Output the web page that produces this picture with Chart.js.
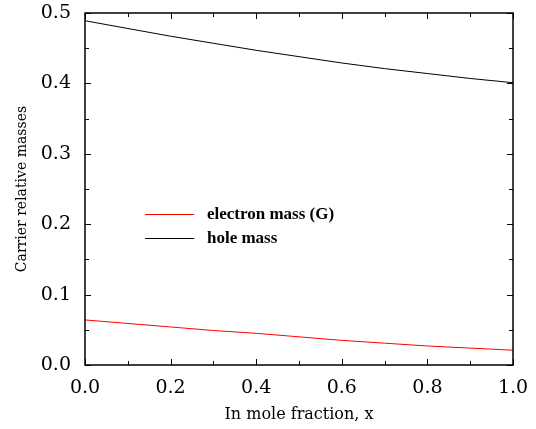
<!doctype html>
<html lang="en">
  <head>
    <meta charset="utf-8">
    <title>Carrier relative masses</title>
    <style>
      html, body { margin: 0; padding: 0; background: #fff; }
      #wrap { width: 536px; height: 429px; }
    </style>
  </head>
  <body>
    <div id="wrap"><canvas id="massChart" width="536" height="429"></canvas></div>

    <script src="https://cdn.jsdelivr.net/npm/chart.js"></script>
    <script>
      // values
      const fraction = [0.0, 0.1, 0.2, 0.3, 0.4, 0.5, 0.6, 0.7, 0.8, 0.9, 1.0];
      const electron_mass = [0.064, 0.059, 0.054, 0.049, 0.045, 0.040, 0.035, 0.031, 0.027, 0.024, 0.021];
      const hole_mass = [0.489, 0.478, 0.467, 0.457, 0.447, 0.438, 0.429, 0.421, 0.414, 0.407, 0.401];
      const x_ticks = [0.0, 0.2, 0.4, 0.6, 0.8, 1.0];
      const y_ticks = [0.0, 0.1, 0.2, 0.3, 0.4, 0.5];

      const serif = "'DejaVu Serif', 'Liberation Serif', serif";

      function points(xs, ys) {
        return xs.map((x, i) => ({ x: x, y: ys[i] }));
      }

      // frame + inward ticks on all four sides
      const framePlugin = {
        id: 'frame',
        afterDatasetsDraw(chart) {
          const ctx = chart.ctx;
          const a = chart.chartArea;
          const xs = chart.scales.x, ys = chart.scales.y;
          ctx.save();
          ctx.strokeStyle = '#000';
          ctx.lineWidth = 1.5;
          ctx.strokeRect(a.left, a.top, a.right - a.left, a.bottom - a.top);
          ctx.lineWidth = 1;
          ctx.beginPath();
          for (let v = 0; v <= 1.0001; v += 0.1) {
            const px = Math.round(xs.getPixelForValue(v)) + 0.5;
            const len = (Math.round(v * 10) % 2 === 0) ? 6 : 4;
            ctx.moveTo(px, a.bottom); ctx.lineTo(px, a.bottom - len);
            ctx.moveTo(px, a.top); ctx.lineTo(px, a.top + len);
          }
          for (let v = 0; v <= 0.5001; v += 0.05) {
            const py = Math.round(ys.getPixelForValue(v)) + 0.5;
            const len = (Math.round(v * 20) % 2 === 0) ? 6 : 4;
            ctx.moveTo(a.left, py); ctx.lineTo(a.left + len, py);
            ctx.moveTo(a.right, py); ctx.lineTo(a.right - len, py);
          }
          ctx.stroke();
          ctx.restore();
        }
      };

      // legend inside the plot
      const legendPlugin = {
        id: 'inLegend',
        afterDatasetsDraw(chart) {
          const ctx = chart.ctx;
          const xs = chart.scales.x, ys = chart.scales.y;
          const x0 = xs.getPixelForValue(0.14), x1 = xs.getPixelForValue(0.255);
          const tx = xs.getPixelForValue(0.285);
          let ty = ys.getPixelForValue(0.215);
          ctx.save();
          ctx.font = "bold 17px 'Liberation Serif', serif";
          ctx.textBaseline = 'middle';
          chart.data.datasets.forEach(ds => {
            ctx.strokeStyle = ds.borderColor;
            ctx.lineWidth = 1;
            ctx.beginPath();
            ctx.moveTo(x0, Math.round(ty) + 0.5);
            ctx.lineTo(x1, Math.round(ty) + 0.5);
            ctx.stroke();
            ctx.fillStyle = '#000';
            ctx.fillText(ds.label, tx, ty + 1);
            ty += 24;
          });
          ctx.restore();
        }
      };

      const massChart = new Chart(document.getElementById('massChart'), {
        type: 'line',
        data: {
          datasets: [{
            label: 'electron mass (G)',
            borderColor: 'rgb(255, 0, 0)',
            borderWidth: 1,
            pointRadius: 0,
            data: points(fraction, electron_mass),
          },
          {
            label: 'hole mass',
            borderColor: 'rgb(0, 0, 0)',
            borderWidth: 1,
            pointRadius: 0,
            cubicInterpolationMode: 'monotone',
            data: points(fraction, hole_mass),
          }]
        },
        options: {
          responsive: false,
          animation: false,
          layout: { padding: { left: 10, right: 23, top: 13, bottom: 0 } },
          plugins: { legend: { display: false }, tooltip: { enabled: false } },
          scales: {
            x: {
              type: 'linear',
              min: 0, max: 1,
              afterBuildTicks: s => { s.ticks = x_ticks.map(v => ({ value: v })); },
              afterFit: s => { s.height = 64; s.paddingLeft = 0; s.paddingRight = 0; },
              grid: { display: false },
              border: { display: false },
              ticks: {
                color: '#000',
                font: { family: serif, size: 19 },
                padding: 4,
                maxRotation: 0,
                callback: v => v.toFixed(1)
              },
              title: {
                display: true,
                text: 'In mole fraction, x',
                color: '#000',
                font: { family: serif, size: 16 },
                padding: { top: 4, bottom: 5 }
              }
            },
            y: {
              min: 0, max: 0.5,
              afterBuildTicks: s => { s.ticks = y_ticks.map(v => ({ value: v })); },
              afterFit: s => { s.width = 75; s.paddingTop = 0; s.paddingBottom = 0; },
              grid: { display: false },
              border: { display: false },
              ticks: {
                color: '#000',
                font: { family: serif, size: 19 },
                padding: 6,
                callback: v => v.toFixed(1)
              },
              title: {
                display: true,
                text: 'Carrier relative masses',
                color: '#000',
                font: { family: serif, size: 14 },
                padding: { bottom: 4 }
              }
            }
          }
        },
        plugins: [framePlugin, legendPlugin]
      });
    </script>
  </body>
</html>
